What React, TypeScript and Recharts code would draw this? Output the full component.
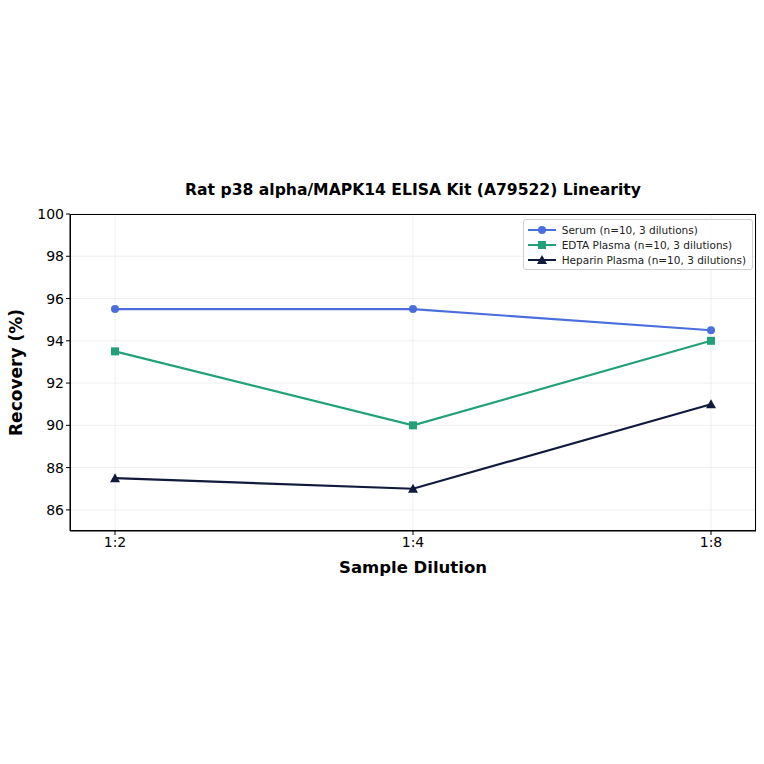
import { LineChart, Line, XAxis, YAxis, CartesianGrid } from 'recharts'

const dilutions = ['1:2', '1:4', '1:8']
const serum = [95.5, 95.5, 94.5]
const edta = [93.5, 90, 94]
const heparin = [87.5, 87, 91]
const yTicks = [86, 88, 90, 92, 94, 96, 98, 100]

const SERIES = [
  { key: 'serum', label: 'Serum (n=10, 3 dilutions)', color: '#4a6fdc', shape: 'circle' },
  { key: 'edta', label: 'EDTA Plasma (n=10, 3 dilutions)', color: '#22a07a', shape: 'square' },
  { key: 'heparin', label: 'Heparin Plasma (n=10, 3 dilutions)', color: '#101a3c', shape: 'triangle' },
]

const FONT = '"DejaVu Sans", sans-serif'

function Marker({ cx, cy, color, shape }: { cx: number; cy: number; color: string; shape: string }) {
  if (cx == null || cy == null) return null
  if (shape === 'square') return <rect x={cx - 4} y={cy - 4} width={8} height={8} fill={color} />
  if (shape === 'triangle')
    return <polygon points={`${cx},${cy - 5} ${cx - 5},${cy + 4} ${cx + 5},${cy + 4}`} fill={color} />
  return <circle cx={cx} cy={cy} r={4} fill={color} />
}

function LegendBox() {
  return (
    <div
      style={{
        position: 'absolute',
        right: 11,
        top: 219,
        border: '1px solid #d0d0d0',
        borderRadius: 3,
        background: 'rgba(255,255,255,0.85)',
        padding: '2px 6px 2px 4px',
        fontFamily: FONT,
        fontSize: 10.5,
        color: '#222',
      }}
    >
      {SERIES.map((s) => (
        <div key={s.key} style={{ display: 'flex', alignItems: 'center', height: 15 }}>
          <svg width={28} height={12} style={{ marginRight: 6 }}>
            <line x1={0} y1={6} x2={28} y2={6} stroke={s.color} strokeWidth={2} />
            <Marker cx={14} cy={6} color={s.color} shape={s.shape} />
          </svg>
          <span>{s.label}</span>
        </div>
      ))}
    </div>
  )
}

export default function App() {
  const data = dilutions.map((d, i) => ({
    name: d,
    serum: serum[i],
    edta: edta[i],
    heparin: heparin[i],
  }))

  return (
    <div style={{ position: 'absolute', left: 0, top: 0, width: 764, height: 764, background: '#fff' }}>
      <div
        style={{
          position: 'absolute',
          left: 70,
          width: 686,
          top: 181,
          textAlign: 'center',
          fontFamily: FONT,
          fontWeight: 'bold',
          fontSize: 15.6,
          color: '#000',
        }}
      >
        Rat p38 alpha/MAPK14 ELISA Kit (A79522) Linearity
      </div>
      <LineChart width={764} height={764} data={data} margin={{ top: 214, right: 8, bottom: 173, left: 0 }}>
        <CartesianGrid stroke="#ebebeb" strokeWidth={0.8} />
        <XAxis
          dataKey="name"
          padding={{ left: 45, right: 45 }}
          height={60}
          tick={{ fontSize: 14, fill: '#000', fontFamily: FONT }}
          tickLine={{ stroke: '#000' }}
          tickSize={4}
          axisLine={{ stroke: '#000' }}
          label={{
            value: 'Sample Dilution',
            position: 'insideTop',
            offset: 30,
            style: { fontSize: 16.5, fontWeight: 'bold', fill: '#000', fontFamily: FONT },
          }}
        />
        <YAxis
          domain={[85, 100]}
          ticks={yTicks}
          width={70}
          tick={{ fontSize: 14, fill: '#000', fontFamily: FONT }}
          tickLine={{ stroke: '#000' }}
          tickSize={4}
          axisLine={{ stroke: '#000' }}
          label={{
            value: 'Recovery (%)',
            angle: -90,
            position: 'insideLeft',
            offset: 16,
            style: { fontSize: 17, fontWeight: 'bold', fill: '#000', fontFamily: FONT, textAnchor: 'middle' },
          }}
        />
        {SERIES.map((s) => (
          <Line
            key={s.key}
            dataKey={s.key}
            stroke={s.color}
            strokeWidth={2.2}
            isAnimationActive={false}
            dot={(p: any) => <Marker key={`${s.key}-${p.index}`} cx={p.cx} cy={p.cy} color={s.color} shape={s.shape} />}
            activeDot={false}
          />
        ))}
      </LineChart>
      <div
        style={{
          position: 'absolute',
          left: 70,
          top: 214,
          width: 686,
          height: 317,
          border: '1px solid #000',
          boxSizing: 'border-box',
          pointerEvents: 'none',
        }}
      />
      <LegendBox />
    </div>
  )
}
